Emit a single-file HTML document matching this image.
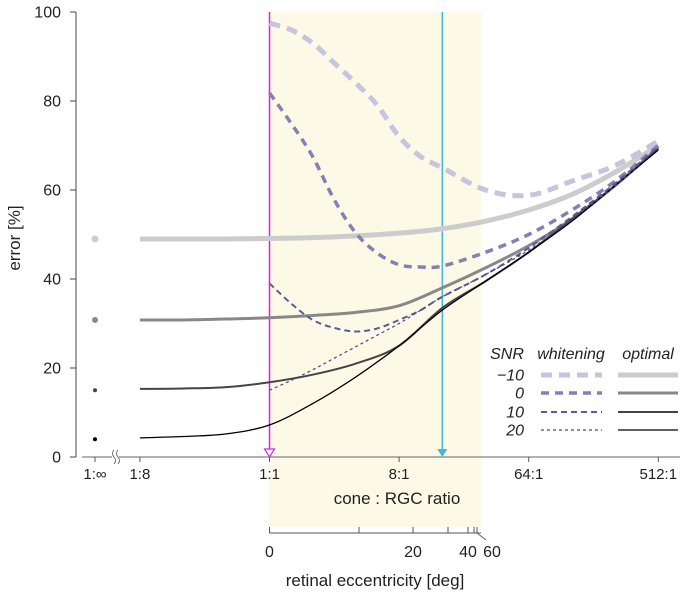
<!DOCTYPE html>
<html><head><meta charset="utf-8"><style>
body{margin:0;background:#fff;}
svg text{font-family:"Liberation Sans",Arial,sans-serif;fill:#222;}
</style></head><body>
<svg id="chart" width="684" height="595" viewBox="0 0 684 595" xmlns="http://www.w3.org/2000/svg">
<rect x="270" y="12" width="211" height="515" fill="#fcf9e6"/>
<g id="axes"></g>
<g id="series"></g>
<g id="legend"></g>
</svg>
<script>
// x positions in log2(cone:RGC ratio)
const optX = [-3,-2,-1,0,1,2,3,4,5,6,7,8,9];
const optM10 = [49,49,49,49.1,49.3,49.7,50.3,51.3,53,55.5,59,64,70];
const opt0 = [30.8,30.8,31,31.3,31.8,32.5,34,38,42.5,47.5,53.5,61,69.5];
const opt10 = [15.3,15.4,15.7,16.8,18.5,21,25,33.5,39.5,46,53.5,61,69.3];
const opt20 = [4.3,4.6,5.2,7.2,12,18,25,33,39.5,46,53,61,69];
const whX = [0,0.5,1,1.5,2,2.5,3,3.5,4,5,6,7,8,9];
const whM10 = [97.5,96,93,88.5,84,79,72,67.5,65,60,58.8,62,65.5,71];
const wh0 = [81.8,75,67.5,57.8,50.3,45.8,43.2,42.7,42.9,46,50,55.5,62,70];
const wh10 = [39,34.5,30.8,29,28.2,28.9,30.8,33,36,41,47,54,61.5,69.8];
const wh20 = [15,17.2,19.6,22.2,24.8,27.4,30,33,36,41,46.5,53.5,61,69.5];
const infVals = [49,30.8,15,4];
const yTicks = [0,20,40,60,80,100];
const ratioTicks = [-3,0,3,6,9];
const ratioLabels = ["1:8","1:1","8:1","64:1","512:1"];
const eccTicks = [0,10,20,30,40,50,60];
const eccPos = [269.5,359,413,448,468,474,477];
const eccLabels = ["0","","20","","40","","60"];
const markerMagenta = 0, markerCyan = 4;

const NS="http://www.w3.org/2000/svg";
const X = v => 269.5 + 43.2*v;
const Y = v => 457 - 4.45*v;
function mk(tag, attrs, parent, txt){const e=document.createElementNS(NS,tag);for(const k in attrs)e.setAttribute(k,attrs[k]);if(txt!==undefined)e.textContent=txt;parent.appendChild(e);return e;}
const axes=document.getElementById('axes'), ser=document.getElementById('series'), leg=document.getElementById('legend');

let ya=mk('line',{x1:76,y1:12,x2:76,y2:457,stroke:'#444','stroke-width':1},axes);


yTicks.forEach(t=>{
  let l=mk('line',{x1:70,x2:76,y1:Y(t),y2:Y(t),stroke:'#444'},axes);
  
  
  let tx=mk('text',{x:61,y:Y(t)+5.5,'text-anchor':'end','font-size':16},axes,String(t));
  
  
});
let yt=mk('text',{x:0,y:0,transform:'translate(20,238) rotate(-90)','text-anchor':'middle','font-size':17},axes,'error [%]');



let xa1=mk('line',{x1:82,x2:112,y1:457,y2:457,stroke:'#666'},axes);


let xa2=mk('line',{x1:119,x2:680,y1:457,y2:457,stroke:'#666'},axes);


let br=mk('path',{d:'M114,450 q-3,3.5 0,7 q3,3.5 0,7 M118,450 q-3,3.5 0,7 q3,3.5 0,7',fill:'none',stroke:'#555','stroke-width':0.8},axes);


let it=mk('line',{x1:95,x2:95,y1:457,y2:462,stroke:'#555'},axes);


let il=mk('text',{x:95,y:479,'text-anchor':'middle','font-size':15},axes,'1:∞');


ratioTicks.forEach((t,i)=>{
  let l=mk('line',{x1:X(t),x2:X(t),y1:457,y2:462,stroke:'#555'},axes);
  
  
  let tx=mk('text',{x:X(t),y:479,'text-anchor':'middle','font-size':15},axes,ratioLabels[i]);
  
  
});
let xt=mk('text',{x:397,y:504,'text-anchor':'middle','font-size':17},axes,'cone : RGC ratio');



let ea=mk('line',{x1:269.5,x2:481,y1:533,y2:533,stroke:'#555'},axes);


eccTicks.forEach((t,i)=>{
  let l=mk('line',{x1:eccPos[i],x2:eccPos[i],y1:527,y2:533,stroke:'#555'},axes);
  
  
  if(eccLabels[i]){
    let ax = t===60?492:eccPos[i];
    let tx=mk('text',{x:ax,y:557,'text-anchor':'middle','font-size':16},axes,eccLabels[i]);
    
    
  }
});
let ld=mk('line',{x1:477,x2:486,y1:533,y2:540,stroke:'#555','stroke-width':0.8},axes);


let et=mk('text',{x:375,y:586,'text-anchor':'middle','font-size':17},axes,'retinal eccentricity [deg]');



let mg=mk('line',{x1:X(markerMagenta),x2:X(markerMagenta),y1:12,y2:449,stroke:'#e020e0','stroke-width':1.5},ser);


let mt=mk('path',{d:`M${X(markerMagenta)-5},449 L${X(markerMagenta)+5},449 L${X(markerMagenta)},457 Z`,fill:'#fff',stroke:'#e020e0','stroke-width':1.2},ser);


let cy=mk('line',{x1:X(markerCyan),x2:X(markerCyan),y1:12,y2:449,stroke:'#40b8d8','stroke-width':1.5},ser);


let ct=mk('path',{d:`M${X(markerCyan)-5},449 L${X(markerCyan)+5},449 L${X(markerCyan)},457 Z`,fill:'#40b8d8'},ser);



function pathD(xs,ys){
  const p=xs.map((x,i)=>[X(x),Y(ys[i])]);
  let d=`M${p[0][0]},${p[0][1]}`;
  for(let i=0;i<p.length-1;i++){
    const p0=p[Math.max(0,i-1)],p1=p[i],p2=p[i+1],p3=p[Math.min(p.length-1,i+2)];
    const c1=[p1[0]+(p2[0]-p0[0])/6,p1[1]+(p2[1]-p0[1])/6];
    const c2=[p2[0]-(p3[0]-p1[0])/6,p2[1]-(p3[1]-p1[1])/6];
    d+=` C${c1[0]},${c1[1]} ${c2[0]},${c2[1]} ${p2[0]},${p2[1]}`;
  }
  return d;
}
const optStyles=[['#cccccc',5],['#888888',3],['#444444',2],['#000000',1.3]];
const whStyles=[['#c6c4de',5,'11 7'],['#8380b2',3.5,'8 6'],['#5c5a98',2,'6 4'],['#4a4888',1.2,'3 3']];
const optSeries=[optM10,opt0,opt10,opt20], whSeries=[whM10,wh0,wh10,wh20];
const snrNames=['m10','0','10','20'];
optSeries.forEach((s,i)=>{
  let p=mk('path',{d:pathD(optX,s),fill:'none',stroke:optStyles[i][0],'stroke-width':optStyles[i][1]},ser);
  
  
  let c=mk('circle',{cx:95,cy:Y(infVals[i]),r:[3.5,3,2,2][i],fill:optStyles[i][0]},ser);
  
  
});
whSeries.forEach((s,i)=>{
  let p=mk('path',{d:pathD(whX,s),fill:'none',stroke:whStyles[i][0],'stroke-width':whStyles[i][1],'stroke-dasharray':whStyles[i][2]},ser);
  
  
});

const hdr=[['SNR',507,'middle'],['whitening',571,'middle'],['optimal',648,'middle']];
hdr.forEach(h=>{
  let t=mk('text',{x:h[1],y:359,'text-anchor':h[2],'font-size':16,'font-style':'italic'},leg,h[0]);
  
  
});
const snrLabels=['\u221210','0','10','20'];
const rowY=[375,393,412,430];
snrLabels.forEach((lab,i)=>{
  let t=mk('text',{x:524,y:rowY[i]+5.5,'text-anchor':'end','font-size':16,'font-style':'italic'},leg,lab);
  
  
  let w=mk('line',{x1:541,x2:602,y1:rowY[i],y2:rowY[i],stroke:whStyles[i][0],'stroke-width':whStyles[i][1],'stroke-dasharray':whStyles[i][2]},leg);
  
  
  let o=mk('line',{x1:618,x2:678,y1:rowY[i],y2:rowY[i],stroke:optStyles[i][0],'stroke-width':optStyles[i][1]},leg);
  
  
});
</script>
</body></html>
